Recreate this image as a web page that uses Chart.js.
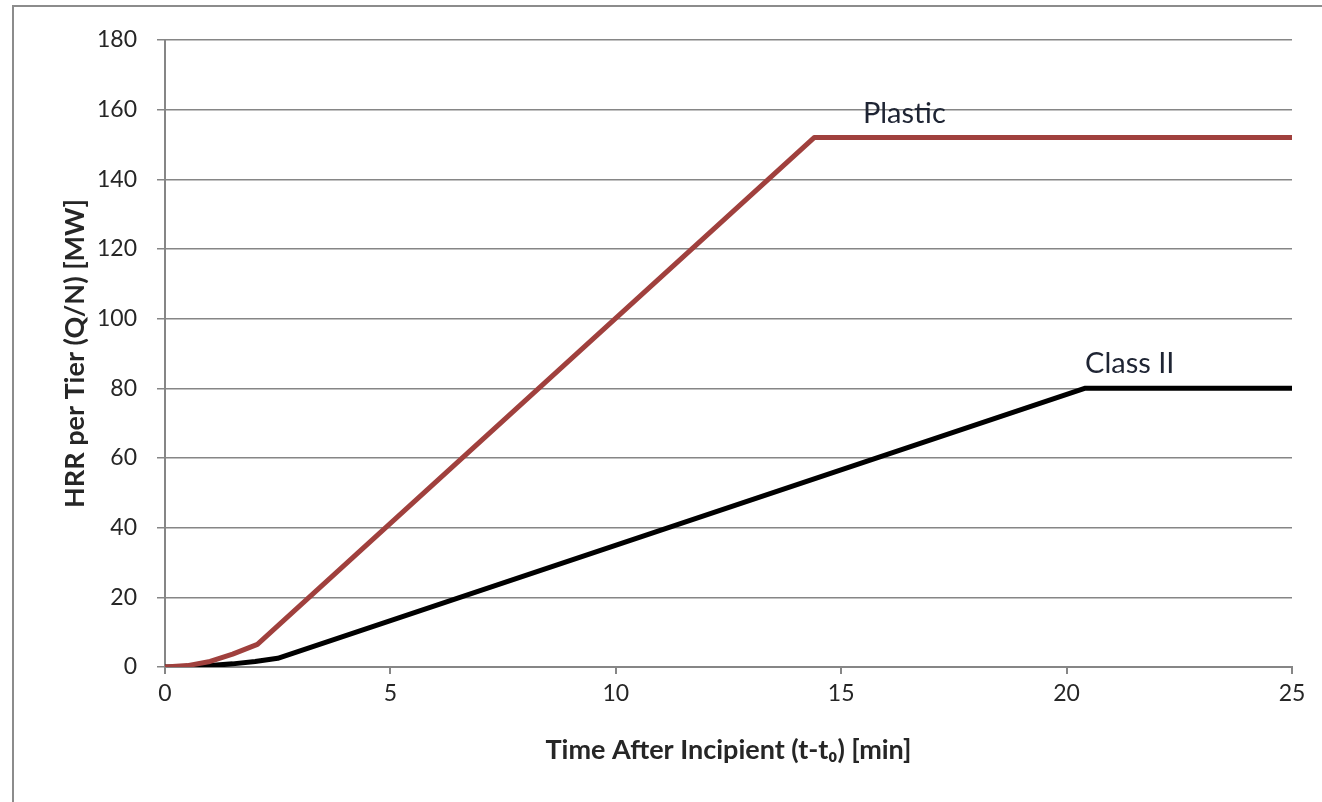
<!DOCTYPE html>
<html>
<head>
<meta charset="utf-8">
<script src="https://cdn.jsdelivr.net/npm/chart.js@4/dist/chart.umd.min.js"></script>
<style>
  html, body { margin: 0; padding: 0; background: #fff; }
  #wrap { width: 1322px; height: 802px; position: relative; }
</style>
</head>
<body>
<div id="wrap"><canvas id="c" width="1322" height="802"></canvas></div>
<script>
const plasticTime = [0, 0.5, 1, 1.5, 2.05, 14.4, 25];
const plasticHRR  = [0, 0.4, 1.6, 3.7, 6.5, 152, 152];
const classTime   = [0, 0.5, 1, 1.5, 2, 2.5, 20.4, 25];
const classHRR    = [0, 0.1, 0.4, 0.9, 1.6, 2.5, 80, 80];
const xTicks = [0, 5, 10, 15, 20, 25];
const yTicks = [0, 20, 40, 60, 80, 100, 120, 140, 160, 180];
const seriesNames = ['Plastic', 'Class II'];
const labelX = [16.4, 21.4];
const labelY = [159, 87];

const FONT = "Lato, 'Open Sans', sans-serif";
const toPts = (xs, ys) => xs.map((x, i) => ({x: x, y: ys[i]}));

const annot = {
  id: 'annot',
  beforeDraw(chart) {
    const ctx = chart.ctx;
    ctx.save();
    ctx.strokeStyle = '#8c8c8c';
    ctx.lineWidth = 2;
    ctx.strokeRect(13, 6, 1400, 900);
    ctx.restore();
  },
  afterDatasetsDraw(chart) {
    const ctx = chart.ctx;
    const xs = chart.scales.x, ys = chart.scales.y;
    ctx.save();
    ctx.font = "29px " + FONT;
    ctx.fillStyle = '#1e2433';
    ctx.textAlign = 'center';
    ctx.textBaseline = 'middle';
    seriesNames.forEach((n, i) => {
      ctx.fillText(n, xs.getPixelForValue(labelX[i]), ys.getPixelForValue(labelY[i]));
    });
    ctx.restore();
  }
};

new Chart(document.getElementById('c'), {
  type: 'line',
  data: {
    datasets: [
      { label: seriesNames[0], data: toPts(plasticTime, plasticHRR), borderColor: '#a0403d', borderWidth: 5, pointRadius: 0, tension: 0, borderJoinStyle: 'round' },
      { label: seriesNames[1], data: toPts(classTime, classHRR), borderColor: '#000000', borderWidth: 5, pointRadius: 0, tension: 0, borderJoinStyle: 'round' }
    ]
  },
  options: {
    responsive: false,
    animation: false,
    layout: { padding: { left: 0, top: 40, right: 30, bottom: 0 } },
    plugins: { legend: { display: false }, tooltip: { enabled: false } },
    scales: {
      x: {
        type: 'linear', min: 0, max: 25,
        afterBuildTicks: s => { s.ticks = xTicks.map(v => ({value: v})); },
        afterFit: s => { s.height = 135; },
        grid: { display: true, drawOnChartArea: false, drawTicks: true, tickLength: 7, color: '#868686', lineWidth: 2 },
        border: { display: true, color: '#868686', width: 2 },
        ticks: { color: '#262626', font: { family: FONT, size: 23 }, padding: 6 },
        title: { display: true, text: 'Time After Incipient (t-t₀) [min]', color: '#262626', font: { family: FONT, size: 27, weight: 'bold' }, padding: { top: 0, bottom: 36 } }
      },
      y: {
        type: 'linear', min: 0, max: 180,
        afterBuildTicks: s => { s.ticks = yTicks.map(v => ({value: v})); },
        afterFit: s => { s.width = 165; },
        grid: { display: true, drawOnChartArea: true, drawTicks: true, tickLength: 8, color: '#868686', lineWidth: 1.5 },
        border: { display: true, color: '#868686', width: 2 },
        ticks: { color: '#262626', font: { family: FONT, size: 23 }, padding: 20 },
        title: { display: true, text: 'HRR per Tier (Q/N) [MW]', color: '#262626', font: { family: FONT, size: 27, weight: 'bold' }, padding: { top: 59, bottom: 0 } }
      }
    }
  },
  plugins: [annot]
});
</script>
</body>
</html>
